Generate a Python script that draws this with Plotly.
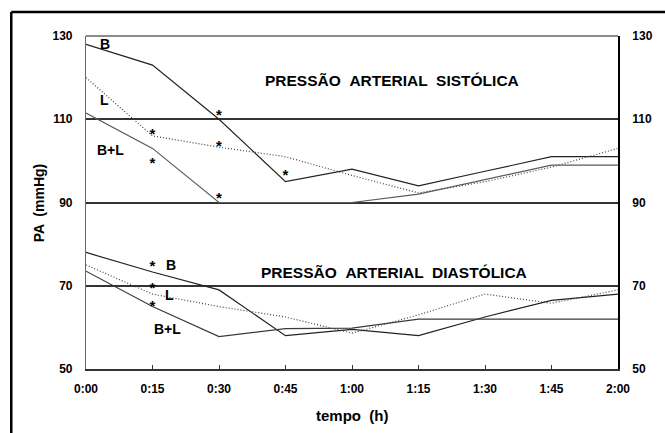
import plotly.graph_objects as go

# time in minutes
time_min = [0, 15, 30, 45, 60, 75, 90, 105, 120]
tick_labels = ["0:00", "0:15", "0:30", "0:45", "1:00", "1:15", "1:30", "1:45", "2:00"]

# Systolic pressure (mmHg)
sys_B = [128, 123, 110, 95, 98, 94, 97.5, 101, 101]
sys_L = [120, 106, 103.3, 101, 96.5, 92.3, 95, 98.5, 103]
sys_BL = [111.5, 103, 90, 90, 90, 92, 95.5, 99, 99]

# Diastolic pressure (mmHg)
dia_B = [78, 73.3, 69, 58, 59.5, 58, 62.5, 66.5, 68]
dia_L = [75, 68, 65, 62.5, 58.6, 63, 68, 65.8, 69]
dia_BL = [73.5, 65, 57.8, 59.7, 59.8, 62, 62, 62, 62]

# significance markers
star_x = [15, 15, 30, 30, 30, 45, 15, 15, 15]
star_y = [106.2, 99.2, 110.7, 103.3, 90.8, 96.3, 74.5, 69.2, 64.9]

y_ticks = [50, 70, 90, 110, 130]

FONT = "Liberation Sans, Arial, sans-serif"

fig = go.Figure()

def add_line(y, color, dash):
    fig.add_trace(go.Scatter(x=time_min, y=y, mode="lines",
                             line=dict(color=color, width=1.2, dash=dash),
                             showlegend=False, hoverinfo="skip"))

add_line(sys_B, "#222222", "solid")
add_line(sys_L, "#444444", "1px,2px")
add_line(sys_BL, "#5a5a5a", "solid")
add_line(dia_B, "#222222", "solid")
add_line(dia_L, "#444444", "1px,2px")
add_line(dia_BL, "#3a3a3a", "solid")

fig.add_trace(go.Scatter(x=star_x, y=star_y, mode="text", text=["*"] * len(star_x),
                         textposition="middle center",
                         textfont=dict(family=FONT, size=15, color="#000", weight="bold"),
                         showlegend=False, hoverinfo="skip"))

# invisible trace on right axis
fig.add_trace(go.Scatter(x=[0], y=[50], yaxis="y2", mode="markers",
                         marker=dict(opacity=0), showlegend=False, hoverinfo="skip"))

ann_font_small = dict(family=FONT, size=14, color="#000", weight="bold")
ann_font_title = dict(family=FONT, size=15.5, color="#000", weight="bold")
sp = " \u00a0"
annotations = [
    dict(x=4.2, y=128.1, text="B", font=ann_font_small),
    dict(x=4.2, y=114.6, text="L", font=ann_font_small),
    dict(x=5.6, y=102.6, text="B+L", font=ann_font_small),
    dict(x=69, y=119.4, text="PRESSÃO" + sp + "ARTERIAL" + sp + "SISTÓLICA", font=ann_font_title),
    dict(x=19.1, y=75.0, text="B", font=ann_font_small),
    dict(x=18.9, y=67.8, text="L", font=ann_font_small),
    dict(x=18.4, y=59.6, text="B+L", font=ann_font_small),
    dict(x=69.4, y=73.3, text="PRESSÃO" + sp + "ARTERIAL" + sp + "DIASTÓLICA", font=ann_font_title),
]
for a in annotations:
    a.update(xref="x", yref="y", showarrow=False, xanchor="center", yanchor="middle")

annotations.append(dict(xref="paper", yref="paper", x=-0.0887, y=0.5, text="PA" + sp + "(mmHg)",
                        textangle=-90, showarrow=False, xanchor="center", yanchor="middle",
                        font=dict(family=FONT, size=14, color="#000", weight="bold")))
annotations.append(dict(xref="paper", yref="paper", x=0.5, y=-0.108, text="tempo" + sp + "(h)",
                        showarrow=False, xanchor="center", yanchor="top",
                        font=dict(family=FONT, size=15, color="#000", weight="bold")))

tickfont = dict(family=FONT, size=12, color="#000", weight="bold")

fig.update_layout(
    width=665, height=433,
    margin=dict(l=86, r=38, t=36, b=64),
    paper_bgcolor="white", plot_bgcolor="white",
    annotations=annotations,
    xaxis=dict(range=[0, 120], tickvals=time_min, ticktext=tick_labels,
               showgrid=False, zeroline=False, showline=True, linecolor="#333", linewidth=1.5,
               ticks="inside", ticklen=4, tickcolor="#333", tickwidth=1,
               tickfont=tickfont, ticklabelstandoff=8),
    yaxis=dict(range=[50, 130], tickvals=y_ticks, showgrid=True, gridcolor="#333333",
               gridwidth=1.5, zeroline=False, showline=True, linecolor="#666", linewidth=1.2,
               ticks="", tickfont=tickfont, ticklabelstandoff=10),
    yaxis2=dict(range=[50, 130], tickvals=y_ticks, overlaying="y", side="right",
                showgrid=False, zeroline=False, showline=True, linecolor="#000", linewidth=1.8,
                ticks="", tickfont=tickfont, ticklabelstandoff=10),
    shapes=[
        # top border at 130 (lighter)
        dict(type="line", xref="paper", yref="paper", x0=0, x1=1, y0=1, y1=1,
             line=dict(color="#666", width=1.5)),
        # outer frame (left and top edges)
        dict(type="line", xref="paper", yref="paper", x0=-0.1405, x1=-0.1405, y0=1.072, y1=-0.3,
             line=dict(color="#000", width=2.5)),
        dict(type="line", xref="paper", yref="paper", x0=-0.1405, x1=1.2, y0=1.072, y1=1.072,
             line=dict(color="#000", width=2.5)),
    ],
)

fig.write_html("out.html")
